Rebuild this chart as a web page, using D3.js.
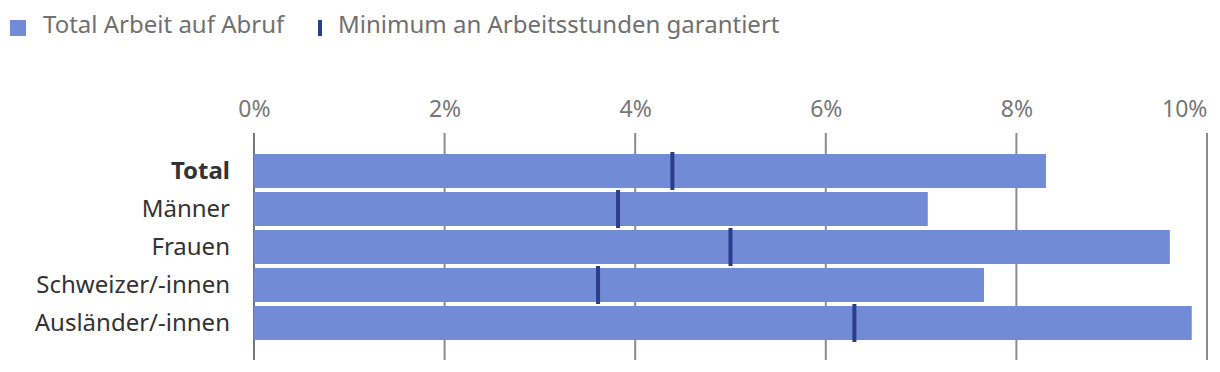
<!DOCTYPE html>
<html>
<head>
<meta charset="utf-8">
<script src="https://cdn.jsdelivr.net/npm/d3@7"></script>
<style>
  body { margin: 0; background: #fff; }
  text { font-family: "Noto Sans", "Open Sans", sans-serif; }
</style>
</head>
<body>
<div id="chart"></div>
<script>
// data
const categories = ["Total", "Männer", "Frauen", "Schweizer/-innen", "Ausländer/-innen"];
const totalAbruf = [8.31, 7.07, 9.61, 7.66, 9.84];
const minGarantiert = [4.39, 3.82, 5.0, 3.61, 6.30];
const tickValues = [0, 2, 4, 6, 8, 10];
const legendLabels = ["Total Arbeit auf Abruf", "Minimum an Arbeitsstunden garantiert"];

const W = 1220, H = 372;
const barColor = "#728bd6", markColor = "#2b3d8c";

const svg = d3.select("#chart").append("svg")
    .attr("width", W).attr("height", H);

const x = d3.scaleLinear().domain([0, 10]).range([254, 1207]);
const y = d3.scaleBand().domain(categories).range([152, 342]).paddingInner(4 / 38).paddingOuter(2 / 38);

// gridlines
svg.append("g").selectAll("line")
    .data(tickValues)
    .enter().append("line")
    .attr("x1", d => x(d)).attr("x2", d => x(d))
    .attr("y1", 133).attr("y2", 360)
    .attr("stroke", d => d === 0 ? "#777" : "#8c8c8c")
    .attr("stroke-width", 2);

// top axis labels, last one kept inside the frame
const axis = d3.axisTop(x).tickValues(tickValues).tickFormat(d => d + "%").tickSize(0).tickPadding(0);
const ax = svg.append("g").attr("transform", "translate(0,117)").call(axis);
ax.select(".domain").remove();
ax.selectAll("text")
    .attr("font-size", 23)
    .attr("fill", "#777")
    .attr("font-family", "Noto Sans, sans-serif")
    .attr("dy", 0)
    .attr("text-anchor", d => d === 10 ? "end" : "middle");

// bars
svg.append("g").selectAll("rect")
    .data(categories)
    .enter().append("rect")
    .attr("x", x(0))
    .attr("y", d => y(d))
    .attr("width", (d, i) => x(totalAbruf[i]) - x(0))
    .attr("height", y.bandwidth())
    .attr("fill", barColor);

// guaranteed minimum markers
svg.append("g").selectAll("rect")
    .data(categories)
    .enter().append("rect")
    .attr("x", (d, i) => x(minGarantiert[i]) - 2)
    .attr("y", d => y(d) - 2)
    .attr("width", 4)
    .attr("height", y.bandwidth() + 4)
    .attr("fill", markColor);

// category labels
svg.append("g").selectAll("text")
    .data(categories)
    .enter().append("text")
    .attr("x", 230)
    .attr("y", d => y(d) + y.bandwidth() / 2)
    .attr("dy", "0.33em")
    .attr("text-anchor", "end")
    .attr("font-size", 24)
    .attr("font-weight", d => d === "Total" ? "bold" : "normal")
    .attr("fill", "#333")
    .text(d => d);

// legend
const lg = svg.append("g");
lg.append("rect").attr("x", 10).attr("y", 20).attr("width", 16).attr("height", 16).attr("fill", barColor);
lg.append("text").attr("x", 43).attr("y", 33).attr("font-size", 24).attr("fill", "#707070").text(legendLabels[0]);
lg.append("rect").attr("x", 318).attr("y", 20).attr("width", 4).attr("height", 16).attr("fill", markColor);
lg.append("text").attr("x", 338).attr("y", 33).attr("font-size", 24).attr("fill", "#707070").text(legendLabels[1]);
</script>
</body>
</html>
